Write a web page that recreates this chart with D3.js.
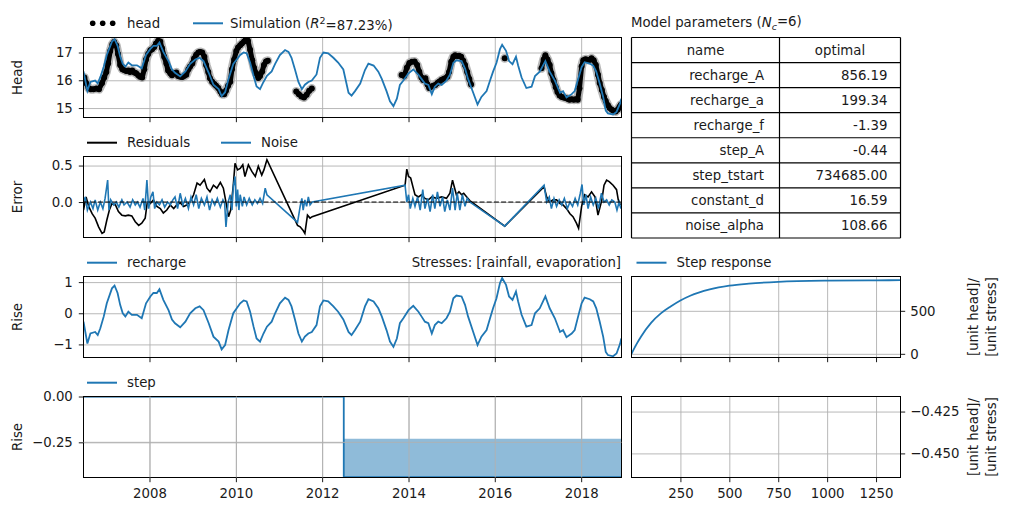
<!DOCTYPE html>
<html>
<head>
<meta charset="utf-8">
<script src="https://cdn.jsdelivr.net/npm/d3@7"></script>
<style>
body { margin: 0; background: #fff; }
svg text { font-family: "DejaVu Sans", sans-serif; font-size: 13.3px; fill: #1a1a1a; }
.grid line { stroke: #b0b0b0; stroke-width: 0.9; }
.grid path { display: none; }
.axis path { display: none; }
.axis line { stroke: #000; stroke-width: 0.9; }
.spine { fill: none; stroke: #000; stroke-width: 1; }
</style>
</head>
<body>
<svg id="fig" width="1011" height="511"></svg>
<script>
// values (dates as decimal years)
var yearTicks = [2008, 2010, 2012, 2014, 2016, 2018];

var headObs = [
  [2006.49,16.10],[2006.53,15.90],[2006.59,15.71],[2006.64,15.68],[2006.70,15.68],[2006.77,15.70],[2006.83,15.68],
  [2006.90,15.90],[2006.95,16.10],[2007.00,16.30],[2007.04,16.60],[2007.09,17.05],[2007.14,17.30],[2007.18,17.38],
  [2007.23,17.25],[2007.27,16.95],[2007.32,16.55],[2007.37,16.40],[2007.41,16.37],[2007.46,16.33],[2007.51,16.35],
  [2007.55,16.30],[2007.60,16.35],[2007.65,16.28],[2007.69,16.25],[2007.74,16.18],[2007.78,16.13],[2007.83,16.10],
  [2007.88,16.40],[2007.92,16.75],[2007.97,16.95],[2008.02,17.08],[2008.06,17.12],[2008.11,17.20],[2008.15,17.32],
  [2008.20,17.42],[2008.25,17.40],[2008.29,17.15],[2008.34,16.85],[2008.39,16.60],[2008.43,16.35],[2008.48,16.25],
  [2008.52,16.18],[2008.57,16.25],[2008.62,16.28],[2008.66,16.15],[2008.71,16.13],[2008.76,16.12],[2008.80,16.15],
  [2008.85,16.20],[2008.90,16.40],[2008.94,16.50],[2008.99,16.60],[2009.03,16.78],[2009.08,16.92],[2009.13,17.00],
  [2009.17,17.02],[2009.22,17.00],[2009.27,16.85],[2009.31,16.55],[2009.36,16.30],[2009.40,16.07],[2009.45,15.95],
  [2009.50,15.87],[2009.54,15.80],[2009.59,15.72],[2009.64,15.60],[2009.68,15.50],[2009.73,15.50],[2009.77,15.62],
  [2009.82,15.80],[2009.87,15.95],[2009.91,16.40],[2009.96,16.75],[2010.01,17.05],[2010.05,17.18],[2010.10,17.26],
  [2010.14,17.32],[2010.19,17.40],[2010.24,17.50],[2010.28,17.42],[2010.33,17.10],[2010.38,16.72],[2010.42,16.45],
  [2010.47,16.25],[2010.52,16.08],[2010.56,16.15],[2010.61,16.32],[2010.65,16.55],[2010.70,16.68],[2010.74,16.70],
  [2011.40,15.60],[2011.46,15.50],[2011.52,15.42],[2011.58,15.38],[2011.64,15.48],[2011.70,15.62],[2011.76,15.70],
  [2013.84,16.19],[2013.90,16.15],[2013.96,16.45],[2014.02,16.62],[2014.08,16.67],[2014.14,16.68],[2014.20,16.55],
  [2014.25,16.31],[2014.30,16.10],[2014.34,16.01],[2014.39,16.07],[2014.44,15.85],[2014.48,15.72],[2014.53,15.77],
  [2014.57,15.80],[2014.62,15.83],[2014.67,15.90],[2014.71,15.95],[2014.76,16.01],[2014.81,16.05],[2014.85,16.07],
  [2014.90,16.13],[2014.94,16.30],[2014.99,16.67],[2015.04,16.85],[2015.08,16.90],[2015.13,16.87],[2015.17,16.88],
  [2015.22,16.85],[2015.27,16.70],[2015.31,16.55],[2015.36,16.30],[2015.41,16.05],[2015.45,15.85],
  [2016.23,16.79],
  [2017.08,16.43],[2017.13,16.75],[2017.17,16.90],[2017.22,16.75],[2017.27,16.55],[2017.31,16.25],[2017.36,16.00],
  [2017.41,15.75],[2017.45,15.58],[2017.50,15.45],[2017.55,15.40],[2017.59,15.38],[2017.64,15.36],[2017.69,15.33],
  [2017.73,15.30],[2017.78,15.32],[2017.83,15.30],[2017.87,15.32],[2017.92,15.30],[2017.96,15.71],[2018.01,16.50],
  [2018.05,16.72],[2018.10,16.76],[2018.15,16.74],[2018.19,16.73],[2018.24,16.79],[2018.29,16.72],[2018.34,16.55],
  [2018.39,16.20],[2018.43,15.90],[2018.48,15.65],[2018.53,15.40],[2018.57,15.25],[2018.62,15.10],[2018.66,15.00],
  [2018.71,14.94],[2018.75,14.90],[2018.80,14.88],[2018.85,14.95],[2018.89,15.05],[2018.92,15.12]
];

var rechDates = [
  2006.47,2006.56,2006.63,2006.74,2006.80,2006.86,2006.94,2007.01,2007.13,2007.19,2007.26,2007.32,2007.38,2007.44,
  2007.51,2007.59,2007.71,2007.82,2007.92,2008.02,2008.09,2008.17,2008.23,2008.32,2008.44,2008.52,2008.59,2008.71,
  2008.83,2008.94,2009.06,2009.16,2009.25,2009.37,2009.48,2009.60,2009.67,2009.75,2009.83,2009.94,2010.02,2010.10,
  2010.18,2010.25,2010.33,2010.41,2010.48,2010.56,2010.64,2010.72,2010.83,2010.91,2011.02,2011.14,2011.22,2011.29,
  2011.37,2011.45,2011.53,2011.60,2011.68,2011.76,2011.87,2011.95,2012.03,2012.14,2012.26,2012.37,2012.49,
  2012.61,2012.68,2012.76,2012.88,2012.99,2013.07,2013.19,2013.30,2013.38,2013.49,2013.57,2013.65,2013.73,2013.80,
  2013.88,2014.00,2014.11,2014.23,2014.30,2014.38,2014.46,2014.54,2014.61,2014.69,2014.77,2014.88,2014.96,2015.04,
  2015.11,2015.23,2015.31,2015.38,2015.50,2015.60,2015.69,2015.81,2015.89,2015.96,2016.04,2016.12,2016.17,2016.26,
  2016.33,2016.41,2016.49,2016.54,2016.62,2016.73,2016.85,2016.93,2017.04,2017.17,2017.27,2017.39,2017.51,2017.58,
  2017.66,2017.78,2017.85,2017.93,2018.01,2018.08,2018.20,2018.28,2018.35,2018.43,2018.51,2018.57,2018.62,2018.74,
  2018.82,2018.90,2018.93
];
var rechValues = [
  -0.27,-0.97,-0.65,-0.60,-0.70,-0.48,-0.10,0.32,0.80,0.89,0.65,0.27,0.00,-0.10,
  0.05,-0.05,-0.05,-0.16,0.32,0.54,0.65,0.65,0.77,0.43,0.10,-0.20,-0.32,-0.45,
  -0.27,0.00,0.16,0.22,0.10,-0.32,-0.75,-0.91,-1.16,-1.02,-0.54,0.00,0.16,0.32,
  0.41,0.38,0.05,-0.43,-0.81,-0.91,-0.65,-0.43,-0.27,0.00,0.32,0.50,0.43,0.22,
  -0.20,-0.65,-0.91,-0.75,-0.65,-0.60,-0.38,0.22,0.41,0.38,0.22,0.05,-0.20,
  -0.60,-0.70,-0.54,-0.27,0.22,0.45,0.38,0.16,-0.10,-0.54,-0.91,-1.08,-0.81,-0.32,
  -0.16,0.10,0.24,0.05,-0.10,-0.27,-0.32,-0.65,-0.38,-0.27,-0.32,-0.16,0.05,0.48,
  0.57,0.54,0.27,-0.10,-0.60,-1.02,-0.75,-0.54,-0.16,0.16,0.48,0.97,1.13,0.91,
  0.54,0.43,0.70,0.38,-0.05,-0.43,-0.38,0.00,0.16,0.54,0.16,-0.16,-0.60,-0.54,
  -0.77,-0.65,-0.54,-0.10,0.32,0.50,0.45,0.38,0.16,-0.27,-0.75,-1.24,-1.34,-1.38,
  -1.29,-0.99,-0.81
];
var simValues = [
  16.32,15.62,15.94,15.99,15.89,16.11,16.49,16.91,17.39,17.48,17.24,16.86,16.59,16.49,
  16.64,16.54,16.54,16.43,16.91,17.13,17.24,17.24,17.36,17.02,16.69,16.39,16.27,16.14,
  16.32,16.59,16.75,16.81,16.69,16.27,15.84,15.68,15.43,15.57,16.05,16.59,16.75,16.91,
  17.00,16.97,16.64,16.16,15.78,15.68,15.94,16.16,16.32,16.59,16.91,17.09,17.02,16.81,
  16.39,15.94,15.68,15.84,15.94,15.99,16.21,16.81,17.00,16.97,16.81,16.64,16.39,
  15.55,15.45,15.61,15.88,16.37,16.60,16.53,16.31,16.05,15.61,15.24,15.07,15.34,15.83,
  15.99,16.25,16.39,16.20,16.05,15.88,15.83,15.50,15.77,15.88,15.83,15.99,16.20,16.63,
  16.72,16.69,16.42,16.05,15.55,15.13,15.40,15.61,15.99,16.31,16.63,17.12,17.28,17.06,
  16.69,16.58,16.85,16.53,16.10,15.72,15.77,16.15,16.31,16.69,16.31,15.99,15.55,15.61,
  15.38,15.50,15.61,16.05,16.47,16.65,16.60,16.53,16.31,15.88,15.40,14.91,14.81,14.77,
  14.86,15.16,15.34
];

var residuals = [
  [2006.47,-0.11],[2006.53,0.07],[2006.59,-0.06],[2006.67,-0.16],[2006.74,-0.22],[2006.82,-0.34],[2006.90,-0.43],
  [2006.95,-0.41],[2007.01,-0.25],[2007.07,-0.11],[2007.13,-0.02],[2007.21,-0.04],[2007.28,-0.13],[2007.36,-0.18],
  [2007.44,-0.19],[2007.51,-0.18],[2007.59,-0.19],[2007.67,-0.27],[2007.75,-0.32],[2007.82,-0.29],[2007.90,-0.22],
  [2007.95,0.00],[2008.02,-0.02],[2008.09,0.03],[2008.17,-0.06],[2008.25,-0.09],[2008.32,-0.15],[2008.40,-0.11],
  [2008.48,-0.04],[2008.56,-0.09],[2008.63,-0.04],[2008.71,-0.01],[2008.79,-0.06],[2008.86,-0.04],[2008.94,0.00],
  [2009.02,0.10],[2009.10,0.26],[2009.17,0.23],[2009.27,0.31],[2009.33,0.19],[2009.40,0.14],[2009.48,0.23],
  [2009.56,0.19],[2009.64,0.27],[2009.71,0.19],[2009.77,0.00],[2009.83,-0.20],[2009.88,-0.11],[2009.94,0.23],
  [2009.98,0.53],[2010.04,0.44],[2010.10,0.46],[2010.16,0.51],[2010.21,0.35],[2010.29,0.51],[2010.37,0.42],
  [2010.45,0.35],[2010.52,0.49],[2010.60,0.37],[2010.65,0.44],[2010.72,0.58],
  [2011.43,-0.32],[2011.49,-0.34],[2011.56,-0.39],[2011.60,-0.43],[2011.66,-0.18],[2011.72,-0.22],[2011.77,-0.20],
  [2013.92,0.23],[2013.96,0.45],[2014.00,0.35],[2014.05,0.33],[2014.11,0.19],[2014.15,0.10],[2014.23,0.07],
  [2014.30,0.10],[2014.38,0.05],[2014.46,0.03],[2014.54,0.07],[2014.65,0.05],[2014.77,0.07],[2014.88,0.05],
  [2014.96,0.12],[2015.02,0.30],[2015.06,0.21],[2015.11,0.10],[2015.17,0.14],[2015.23,0.10],[2015.28,0.12],
  [2015.35,0.07],[2015.42,0.02],
  [2016.23,-0.33],
  [2017.14,0.21],[2017.20,0.07],[2017.27,0.00],[2017.35,0.03],[2017.43,0.03],[2017.51,-0.02],[2017.58,-0.04],
  [2017.66,-0.09],[2017.74,-0.16],[2017.81,-0.20],[2017.89,-0.29],[2017.94,-0.36],[2018.01,-0.06],[2018.08,0.10],
  [2018.16,0.07],[2018.24,0.14],[2018.32,0.07],[2018.39,-0.18],[2018.48,0.03],[2018.53,0.23],[2018.59,0.30],
  [2018.65,0.28],[2018.74,0.23],[2018.82,0.17],[2018.86,0.03],[2018.91,-0.04]
];

var noise = [
  [2006.47,0.00],[2006.51,0.07],[2006.56,-0.11],[2006.63,0.00],[2006.69,-0.09],[2006.74,0.03],[2006.80,-0.11],
  [2006.86,0.00],[2006.92,-0.09],[2006.97,0.05],[2007.03,0.30],[2007.06,-0.11],[2007.10,0.03],[2007.17,-0.04],
  [2007.23,0.00],[2007.29,-0.07],[2007.36,0.03],[2007.41,-0.04],[2007.48,0.00],[2007.55,-0.07],[2007.61,0.03],
  [2007.67,-0.04],[2007.72,0.00],[2007.78,-0.07],[2007.85,0.05],[2007.89,-0.11],[2007.94,0.30],[2007.98,-0.09],
  [2008.03,0.07],[2008.08,0.14],[2008.12,-0.09],[2008.17,0.00],[2008.23,-0.04],[2008.29,0.03],[2008.35,-0.07],
  [2008.42,0.00],[2008.48,-0.04],[2008.54,0.03],[2008.59,0.07],[2008.65,-0.09],[2008.71,0.12],[2008.77,-0.04],
  [2008.83,0.05],[2008.90,-0.09],[2008.96,0.07],[2009.02,-0.04],[2009.08,0.10],[2009.14,-0.09],[2009.20,0.05],
  [2009.27,-0.04],[2009.33,0.07],[2009.39,-0.11],[2009.45,0.03],[2009.51,-0.04],[2009.57,0.05],[2009.64,-0.07],
  [2009.70,0.03],[2009.74,-0.02],[2009.77,-0.34],[2009.82,0.00],[2009.87,0.10],[2009.91,-0.11],[2009.94,0.21],
  [2009.98,0.35],[2010.01,-0.06],[2010.04,0.17],[2010.07,-0.11],[2010.10,0.10],[2010.15,-0.06],[2010.19,0.07],
  [2010.25,-0.04],[2010.31,0.05],[2010.38,-0.04],[2010.44,0.03],[2010.50,-0.02],[2010.56,0.05],[2010.62,-0.02],
  [2010.68,0.19],[2010.72,0.10],
  [2011.43,-0.28],[2011.49,-0.06],[2011.53,0.05],[2011.56,-0.11],[2011.60,0.03],[2011.64,-0.06],[2011.68,0.07],
  [2011.72,-0.04],[2011.77,0.00],
  [2013.92,0.23],[2013.96,0.00],[2014.00,0.10],[2014.04,-0.09],[2014.10,0.05],[2014.15,-0.06],[2014.21,0.07],
  [2014.27,-0.11],[2014.33,0.17],[2014.38,-0.09],[2014.44,0.05],[2014.50,-0.13],[2014.56,0.10],[2014.61,-0.09],
  [2014.67,0.14],[2014.73,-0.06],[2014.79,0.07],[2014.84,-0.13],[2014.90,0.03],[2014.96,-0.11],[2015.02,0.19],
  [2015.08,-0.11],[2015.13,0.12],[2015.19,-0.11],[2015.25,0.10],[2015.31,-0.06],[2015.36,0.05],[2015.42,0.00],
  [2016.23,-0.33],
  [2017.14,0.23],[2017.20,0.00],[2017.26,0.07],[2017.31,-0.09],[2017.37,0.05],[2017.43,-0.06],[2017.49,0.03],
  [2017.55,-0.04],[2017.61,0.05],[2017.68,-0.09],[2017.74,0.00],[2017.80,-0.06],[2017.86,0.05],[2017.92,-0.04],
  [2017.98,0.12],[2018.02,0.24],[2018.06,-0.04],[2018.11,0.10],[2018.16,-0.09],[2018.22,0.07],[2018.28,-0.04],
  [2018.34,0.05],[2018.40,-0.09],[2018.47,0.12],[2018.53,0.00],[2018.59,0.03],[2018.65,-0.04],[2018.71,0.03],
  [2018.78,0.00],[2018.83,-0.11],[2018.88,0.00],[2018.92,-0.09]
];

var stepDates = [2006.47, 2012.50, 2012.50, 2018.93];
var stepValues = [0, 0, -0.44, -0.44];
var stepFillTop = -0.23;

var respT = [0, 25, 50, 100, 150, 200, 250, 300, 400, 500, 600, 750, 1000, 1250, 1375];
var respValues = [0, 110, 205, 360, 470, 550, 620, 675, 748, 792, 816, 837, 851, 855, 856];

var paramNames = ["recharge_A", "recharge_a", "recharge_f", "step_A", "step_tstart", "constant_d", "noise_alpha"];
var paramValues = ["856.19", "199.34", "-1.39", "-0.44", "734685.00", "16.59", "108.66"];

var headTicks = [15, 16, 17];
var errTicks = [0.0, 0.5];
var riseTicks = [-1, 0, 1];
var stepTicks = [-0.25, 0.00];
var respTicks = [0, 500];
var stepRespTicks = [-0.450, -0.425];
var lagTicks = [250, 500, 750, 1000, 1250];

//////////////////////////////////////////////////////////////////////////////

var blue = "#1f77b4";
var svg = d3.select("#fig");

var xLeft = [83.5, 621.5], xRight = [631.5, 900.5];
var rows = [[37.5, 117.5], [156.5, 237.5], [276.5, 357.5], [396.5, 477.5]];

// decimal year -> Date
function toDate(y) {
    var yr = Math.floor(y);
    var start = new Date(yr, 0, 1), end = new Date(yr + 1, 0, 1);
    return new Date(+start + (y - yr) * (end - start));
}

var xTime = d3.scaleTime().domain([toDate(2006.47), toDate(2018.935)]).range(xLeft);
var xLag = d3.scaleLinear().domain([0, 1375]).range(xRight);
var yearDates = yearTicks.map(toDate);

var clipId = 0;

// draws frame, grid and axes of one panel and returns the y scale and a clipped group
function makePanel(x, xTicks, xLabels, yDomain, yTicks, yFormat, row, side) {
    var y = d3.scaleLinear().domain(yDomain).range([row[1], row[0]]);
    var x0 = x.range()[0], x1 = x.range()[1];
    var h = row[1] - row[0], w = x1 - x0;

    svg.append("g").attr("class", "grid")
        .attr("transform", "translate(0," + row[1] + ")")
        .call(d3.axisBottom(x).tickValues(xTicks).tickSize(-h).tickFormat(""));
    svg.append("g").attr("class", "grid")
        .attr("transform", "translate(" + x0 + ",0)")
        .call(d3.axisRight(y).tickValues(yTicks).tickSize(w).tickFormat(""));

    var xAxis = d3.axisBottom(x).tickValues(xTicks).tickSizeInner(4.7).tickSizeOuter(0).tickPadding(6);
    if (xLabels) xAxis.tickFormat(xLabels); else xAxis.tickFormat("");
    svg.append("g").attr("class", "axis")
        .attr("transform", "translate(0," + row[1] + ")")
        .call(xAxis);

    var yAxis;
    if (side == "left") {
        yAxis = d3.axisLeft(y).tickPadding(6);
    } else {
        yAxis = d3.axisRight(y).tickPadding(5);
    }
    yAxis.tickValues(yTicks).tickSizeInner(4.7).tickSizeOuter(0).tickFormat(d3.format(yFormat));
    svg.append("g").attr("class", "axis")
        .attr("transform", "translate(" + (side == "left" ? x0 : x1) + ",0)")
        .call(yAxis);

    var id = "clip" + (clipId++);
    svg.append("clipPath").attr("id", id)
        .append("rect").attr("x", x0).attr("y", row[0]).attr("width", w).attr("height", h);
    var g = svg.append("g").attr("clip-path", "url(#" + id + ")");

    svg.append("rect").attr("class", "spine")
        .attr("x", x0).attr("y", row[0]).attr("width", w).attr("height", h);

    return { y: y, g: g };
}

function yLabel(txt, cx, cy) {
    svg.append("text")
        .attr("transform", "translate(" + cx + "," + cy + ") rotate(-90)")
        .attr("text-anchor", "middle").attr("dy", "0.35em")
        .text(txt);
}

function legendLine(x, y, color, label) {
    svg.append("line").attr("x1", x).attr("x2", x + 30).attr("y1", y).attr("y2", y)
        .attr("stroke", color).attr("stroke-width", 2);
    return svg.append("text").attr("x", x + 40).attr("y", y).attr("dy", "0.35em").text(label);
}

function unitLabel(cy) {
    yLabel("[unit head]/", 973, cy);
    yLabel("[unit stress]", 991, cy);
}

// split the observations where the record has a gap, so the dot band is not joined across it
function splitRuns(data, maxGap) {
    var runs = [[data[0]]];
    for (var i = 1; i < data.length; i++) {
        if (data[i][0] - data[i - 1][0] > maxGap) runs.push([]);
        runs[runs.length - 1].push(data[i]);
    }
    return runs;
}

// ---- head panel
var p1 = makePanel(xTime, yearDates, null, [14.66, 17.54], headTicks, "d", rows[0], "left");
var obsLine = d3.line()
    .x(function (d) { return xTime(toDate(d[0])); })
    .y(function (d) { return p1.y(d[1]); });
var obsRuns = splitRuns(headObs, 0.2);
obsRuns.forEach(function (run) {
    p1.g.append("path").attr("d", obsLine(run))
        .attr("fill", "none").attr("stroke", "#a0a0a0").attr("stroke-opacity", 0.75)
        .attr("stroke-width", 9).attr("stroke-linecap", "round").attr("stroke-linejoin", "round");
});
obsRuns.forEach(function (run) {
    p1.g.append("path").attr("d", obsLine(run))
        .attr("fill", "none").attr("stroke", "#000")
        .attr("stroke-width", 5).attr("stroke-linecap", "round").attr("stroke-linejoin", "round");
});
p1.g.selectAll(".obs").data(headObs).enter().append("circle")
    .attr("cx", d => xTime(toDate(d[0]))).attr("cy", d => p1.y(d[1]))
    .attr("r", 3).attr("fill", "#000");
var simLine = d3.line()
    .x(function (d, i) { return xTime(toDate(rechDates[i])); })
    .y(function (d) { return p1.y(d); });
p1.g.append("path").attr("d", simLine(simValues))
    .attr("fill", "none").attr("stroke", blue).attr("stroke-width", 1.8);
yLabel("Head", 17, 77.5);

[92.7, 102.7, 112.7].forEach(function (cx) {
    svg.append("circle").attr("cx", cx).attr("cy", 23.3).attr("r", 2.8).attr("fill", "#000");
});
svg.append("text").attr("x", 127).attr("y", 23.3).attr("dy", "0.35em").text("head");
var simLeg = legendLine(193, 23.3, blue, "");
simLeg.attr("x", 230);
simLeg.append("tspan").text("Simulation (");
simLeg.append("tspan").attr("font-style", "italic").text("R");
simLeg.append("tspan").attr("dy", "-0.45em").attr("font-size", "9.5px").text("2");
simLeg.append("tspan").attr("dy", "0.45em").text("=87.23%)");

// ---- error panel
var p2 = makePanel(xTime, yearDates, null, [-0.486, 0.624], errTicks, ".1f", rows[1], "left");
var errLine = d3.line()
    .x(function (d) { return xTime(toDate(d[0])); })
    .y(function (d) { return p2.y(d[1]); });
p2.g.append("path").attr("d", errLine(residuals))
    .attr("fill", "none").attr("stroke", "#000").attr("stroke-width", 1.6);
p2.g.append("path").attr("d", errLine(noise))
    .attr("fill", "none").attr("stroke", blue).attr("stroke-width", 1.6);
p2.g.append("line").attr("x1", xLeft[0]).attr("x2", xLeft[1])
    .attr("y1", p2.y(0)).attr("y2", p2.y(0))
    .attr("stroke", "#000").attr("stroke-width", 1).attr("stroke-dasharray", "5,2.2");
yLabel("Error", 17, 197);
legendLine(87, 142.7, "#000", "Residuals");
legendLine(221, 142.7, blue, "Noise");

// ---- recharge panel
var p3 = makePanel(xTime, yearDates, null, [-1.42, 1.18], riseTicks, "d", rows[2], "left");
var rechLine = d3.line()
    .x(function (d, i) { return xTime(toDate(rechDates[i])); })
    .y(function (d) { return p3.y(d); });
p3.g.append("path").attr("d", rechLine(rechValues))
    .attr("fill", "none").attr("stroke", blue).attr("stroke-width", 1.8);
yLabel("Rise", 17, 317);
legendLine(87, 262.7, blue, "recharge");
svg.append("text").attr("x", 621).attr("y", 262.7).attr("dy", "0.35em")
    .attr("text-anchor", "end").text("Stresses: [rainfall, evaporation]");

// ---- step panel
var p4 = makePanel(xTime, yearDates, d3.timeFormat("%Y"), [-0.442, 0], stepTicks, ".2f", rows[3], "left");
var stepArea = d3.area()
    .x(function (d) { return xTime(toDate(d)); })
    .y0(p4.y(-0.442)).y1(p4.y(stepFillTop));
p4.g.insert("path", ":first-child").attr("d", stepArea([stepDates[2], stepDates[3]]))
    .attr("fill", "#8fbbd9");
var stepLine = d3.line()
    .x(function (d, i) { return xTime(toDate(stepDates[i])); })
    .y(function (d) { return p4.y(d); });
p4.g.append("path").attr("d", stepLine(stepValues))
    .attr("fill", "none").attr("stroke", blue).attr("stroke-width", 1.8);
yLabel("Rise", 17, 437);
legendLine(87, 382.7, blue, "step");
// grid drawn above the fill
svg.append("g").attr("class", "grid")
    .attr("transform", "translate(0," + rows[3][1] + ")")
    .call(d3.axisBottom(xTime).tickValues(yearDates).tickSize(-(rows[3][1] - rows[3][0])).tickFormat(""));
svg.append("line").attr("x1", xLeft[0]).attr("x2", xLeft[1])
    .attr("y1", p4.y(-0.25)).attr("y2", p4.y(-0.25)).attr("stroke", "#b0b0b0").attr("stroke-width", 0.9);

// ---- step response panel
var p5 = makePanel(xLag, lagTicks, null, [-42.8, 899], respTicks, "d", rows[2], "right");
var respLine = d3.line()
    .curve(d3.curveMonotoneX)
    .x(function (d, i) { return xLag(respT[i]); })
    .y(function (d) { return p5.y(d); });
p5.g.append("path").attr("d", respLine(respValues))
    .attr("fill", "none").attr("stroke", blue).attr("stroke-width", 1.8);
legendLine(636.5, 262.7, blue, "Step response");
unitLabel(317);

// ---- step response of the step (empty)
makePanel(xLag, lagTicks, d3.format("d"), [-0.4644, -0.416], stepRespTicks, ".3f", rows[3], "right");
unitLabel(437);

// ---- parameter table
var tTop = 37.5, tBot = 238, rowH = (tBot - tTop) / 8, colX = [631.5, 779.5, 900.5];
var title = svg.append("text").attr("x", 631).attr("y", 22).attr("dy", "0.35em");
title.append("tspan").text("Model parameters (");
title.append("tspan").attr("font-style", "italic").text("N");
title.append("tspan").attr("font-style", "italic").attr("font-size", "9.5px").attr("dy", "0.3em").text("c");
title.append("tspan").attr("dy", "-0.3em").text("=6)");

var table = svg.append("g");
d3.range(9).forEach(function (i) {
    table.append("line").attr("x1", colX[0]).attr("x2", colX[2])
        .attr("y1", tTop + i * rowH).attr("y2", tTop + i * rowH)
        .attr("stroke", "#000").attr("stroke-width", 1.2);
});
colX.forEach(function (cx) {
    table.append("line").attr("x1", cx).attr("x2", cx).attr("y1", tTop).attr("y2", tBot)
        .attr("stroke", "#000").attr("stroke-width", 1.2);
});
table.append("text").attr("x", (colX[0] + colX[1]) / 2).attr("y", tTop + rowH / 2)
    .attr("dy", "0.35em").attr("text-anchor", "middle").text("name");
table.append("text").attr("x", (colX[1] + colX[2]) / 2).attr("y", tTop + rowH / 2)
    .attr("dy", "0.35em").attr("text-anchor", "middle").text("optimal");
table.selectAll(".pname").data(paramNames).enter().append("text")
    .attr("x", 764).attr("y", (d, i) => tTop + (i + 1.5) * rowH)
    .attr("dy", "0.35em").attr("text-anchor", "end").text(d => d);
table.selectAll(".pval").data(paramValues).enter().append("text")
    .attr("x", 887.5).attr("y", (d, i) => tTop + (i + 1.5) * rowH)
    .attr("dy", "0.35em").attr("text-anchor", "end").text(d => d);
</script>
</body>
</html>
